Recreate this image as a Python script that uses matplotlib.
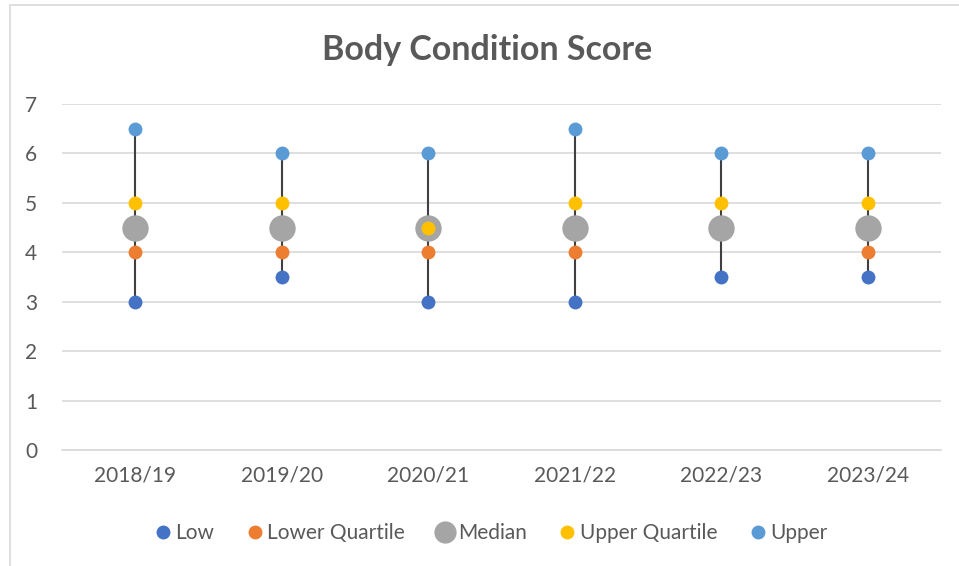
import matplotlib.pyplot as plt
from matplotlib.patches import Rectangle
from matplotlib.lines import Line2D

seasons = ["2018/19", "2019/20", "2020/21", "2021/22", "2022/23", "2023/24"]
low = [3.0, 3.5, 3.0, 3.0, 3.5, 3.5]
lower_q = [4.0, 4.0, 4.0, 4.0, 4.5, 4.0]
median = [4.5, 4.5, 4.5, 4.5, 4.5, 4.5]
upper_q = [5.0, 5.0, 4.5, 5.0, 5.0, 5.0]
upper = [6.5, 6.0, 6.0, 6.5, 6.0, 6.0]

text_col = "#595959"
plt.rcParams['font.family'] = ['Lato', 'DejaVu Sans']

fig = plt.figure(figsize=(9.59, 5.66), dpi=100)
ax = fig.add_axes([62 / 959, 1 - 450 / 566, 879 / 959, 346 / 566])

# outer chart border
fig.patches.append(Rectangle((10 / 959, -0.01), 1.0, 1 - 5 / 566 + 0.01,
                             transform=fig.transFigure, fill=False,
                             edgecolor="#d9d9d9", lw=1.2))

x = list(range(len(seasons)))
for i in x:
    ax.plot([i, i], [low[i], upper[i]], color="#404040", lw=1.5, zorder=2)

series = [
    ("Low", low, "#4472C4", 10),
    ("Lower Quartile", lower_q, "#ED7D31", 10),
    ("Median", median, "#A5A5A5", 19),
    ("Upper Quartile", upper_q, "#FFC000", 10),
    ("Upper", upper, "#5B9BD5", 10),
]
handles = []
for k, (name, vals, col, ms) in enumerate(series):
    ax.plot(x, vals, linestyle="none", marker="o", markersize=ms,
            color=col, markeredgewidth=0, zorder=3 + k)
    handles.append(Line2D([], [], linestyle="none", marker="o",
                          markersize=ms if name != "Median" else 16,
                          color=col, markeredgewidth=0, label=name))

ax.set_xlim(-0.5, len(seasons) - 0.5)
ax.set_ylim(0, 7)
ax.set_yticks(range(0, 8))
ax.set_xticks(x)
ax.set_xticklabels(seasons)
ax.grid(axis="y", color="#d9d9d9", lw=1.2)
ax.set_axisbelow(True)
for s in ["top", "right", "left"]:
    ax.spines[s].set_visible(False)
ax.spines["bottom"].set_color("#d9d9d9")
ax.spines["bottom"].set_linewidth(1.2)
ax.tick_params(length=0, labelsize=15, labelcolor=text_col)
ax.tick_params(axis="x", pad=11)
ax.tick_params(axis="y", pad=18)

fig.text(0.5 + 8 / 959, 1 - 50 / 566, "Body Condition Score", ha="center",
         va="center", fontsize=24.5, fontweight="bold", color=text_col)

fig.legend(handles=handles, loc="center", bbox_to_anchor=(0.5 + 10 / 959, 1 - 533 / 566),
           ncol=5, frameon=False, fontsize=15, labelcolor=text_col,
           handletextpad=0.05, columnspacing=1.4, handlelength=1.1)

fig.savefig("out.png", dpi=100)
